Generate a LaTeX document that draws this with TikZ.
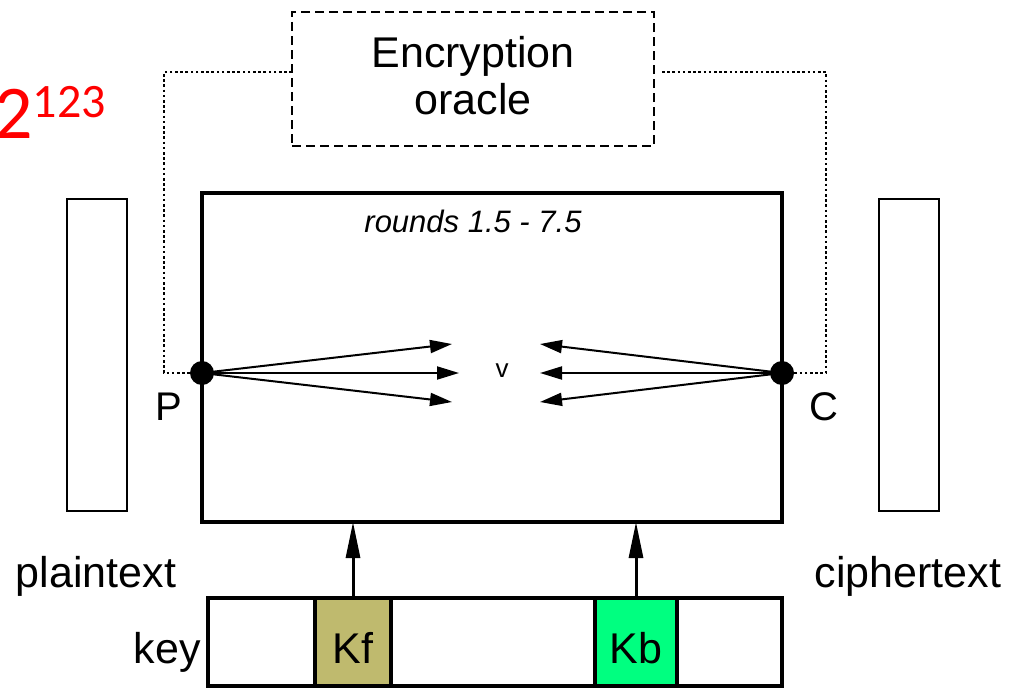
\documentclass[tikz,border=0pt]{standalone}
\usepackage{fontspec}
\setmainfont{Liberation Sans}
\newfontfamily\calibfont{Carlito}
\usetikzlibrary{arrows.meta}
\definecolor{kfcol}{RGB}{191,186,110}
\definecolor{kbcol}{RGB}{0,255,128}
\begin{document}
\begin{tikzpicture}[x=1pt,y=-1pt,
  box/.style={draw,line width=4pt,inner sep=0pt,outer sep=0pt},
  thinbox/.style={draw,line width=2.4pt,inner sep=0pt,outer sep=0pt,minimum width=60pt,minimum height=312pt},
  oraclebox/.style={draw,line width=2.4pt,dash pattern=on 9pt off 5pt,inner sep=0pt,outer sep=0pt},
  lbl/.style={font=\fontsize{43}{47}\selectfont,inner sep=0pt},
  dotnode/.style={circle,fill=black,inner sep=0pt,outer sep=0pt,minimum size=24pt},
  fan/.style={line width=2pt,-{Triangle[length=22pt,width=13pt]}},
  keyarrow/.style={line width=3pt,-{Triangle[length=36pt,width=14pt]}},
  oraclelink/.style={line width=2.6pt,dash pattern=on 2.6pt off 2.6pt}]
\useasboundingbox (0,0) rectangle (1009,688);

% exponent label
\node[anchor=base west,inner sep=0pt,text=red,font=\calibfont] (cost) at (-6,138)
  {\fontsize{76}{76}\selectfont 2\raisebox{21pt}{\fontsize{48}{48}\selectfont 123}};

% oracle
\node[oraclebox,minimum width=362pt,minimum height=134pt] (oracle) at (473,79) {};
\node[lbl,anchor=base] (enc1) at (473,67) {Encryption};
\node[lbl,anchor=base] (enc2) at (473,114) {oracle};

% main box
\node[box,minimum width=580pt,minimum height=329pt] (main) at (492,357.5) {};
\node[inner sep=0pt,anchor=base,font=\itshape\fontsize{31}{34}\selectfont] (rounds) at (473,232) {rounds 1.5 - 7.5};
\node[inner sep=0pt,anchor=base,font=\fontsize{26}{28}\selectfont] (v) at (502,377) {v};

% plaintext / ciphertext boxes
\node[thinbox] (pbox) at (97,355) {};
\node[thinbox] (cbox) at (909,355) {};
\node[lbl,anchor=base] (ptxt) at (96,587) {plaintext};
\node[lbl,anchor=base] (ctxt) at (908,587) {ciphertext};

% fan arrows
\coordinate (Pc) at (202,373);
\coordinate (Cc) at (782,373);
\coordinate (pt1) at (452,344);
\coordinate (pt2) at (459,373);
\coordinate (pt3) at (452,402);
\coordinate (ct1) at (540,344);
\coordinate (ct2) at (540,373);
\coordinate (ct3) at (540,402);
\draw[fan] (Pc) -- (pt1);
\draw[fan] (Pc) -- (pt2);
\draw[fan] (Pc) -- (pt3);
\draw[fan] (Cc) -- (ct1);
\draw[fan] (Cc) -- (ct2);
\draw[fan] (Cc) -- (ct3);
\node[dotnode] (P) at (Pc) {};
\node[dotnode] (C) at (Cc) {};
\node[inner sep=0pt,anchor=base,font=\fontsize{40}{44}\selectfont] (Plbl) at (169,420) {P};
\node[inner sep=0pt,anchor=base,font=\fontsize{40}{44}\selectfont] (Clbl) at (824,420) {C};

% oracle links
\coordinate (lcorner) at (164,373);
\coordinate (rcorner) at (826,373);
\draw[oraclelink] ([yshift=7pt]oracle.west) -| (lcorner) -- (P);
\draw[oraclelink] ([yshift=7pt,xshift=8pt]oracle.east) -| (rcorner) -- (C);

% key bar
\node[box,minimum width=574pt,minimum height=88pt] (key) at (495,642) {};
\node[box,fill=kfcol,minimum width=76pt,minimum height=88pt] (kf) at (353,642) {};
\node[box,fill=kbcol,minimum width=82pt,minimum height=88pt] (kb) at (636,642) {};
\node[lbl,anchor=base] (kftxt) at (353,663) {Kf};
\node[lbl,anchor=base] (kbtxt) at (636,663) {Kb};
\node[lbl,anchor=base east] (keytxt) at (201,663) {key};

\draw[keyarrow] (kf.north) -- (kf.north |- main.south);
\draw[keyarrow] (kb.north) -- (kb.north |- main.south);
\end{tikzpicture}
\end{document}
